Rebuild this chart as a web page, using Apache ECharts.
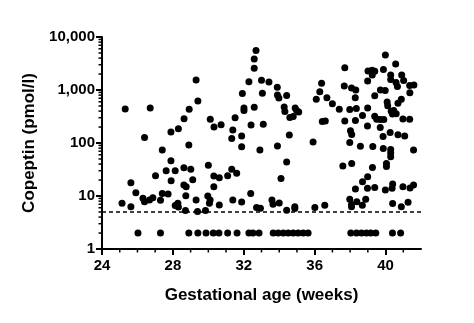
<!DOCTYPE html>
<html>
<head>
<meta charset="utf-8">
<script src="https://cdn.jsdelivr.net/npm/echarts@6/dist/echarts.min.js"></script>
<style>
html,body{margin:0;padding:0;background:#fff;}
#chart{width:474px;height:323px;}
</style>
</head>
<body>
<div id="chart"></div>
<script>
// Detectable copeptin values: gestational age (weeks) and copeptin (pmol/l)
const gestWeeks = [
25.13,25.31,25.63,25.63,25.91,26.31,26.40,26.40,26.68,26.72,26.87,27.02,27.30,27.40,27.40,27.62,27.73,27.89,27.90,27.89,
28.13,28.13,28.28,28.31,28.31,28.62,28.62,28.75,28.73,28.71,28.63,28.90,28.92,29.01,29.12,29.31,29.31,29.41,29.39,29.84,
29.97,30.00,30.06,30.10,30.11,30.31,30.31,30.32,30.62,30.62,30.72,31.09,31.32,31.32,31.38,31.38,31.51,31.60,31.88,31.88,
31.88,31.92,32.01,32.01,32.29,32.39,32.41,32.59,32.59,32.69,32.59,32.72,32.91,32.94,33.00,33.05,33.10,33.42,33.59,33.65,
34.00,33.90,34.10,33.89,33.90,33.98,34.42,34.28,34.32,34.42,34.42,34.57,34.60,34.79,34.90,34.98,35.10,34.88,34.88,35.91,
36.01,36.09,36.29,36.39,36.69,36.43,36.60,36.57,37.00,37.39,37.59,37.70,37.67,37.70,37.98,38.08,38.32,38.29,38.35,38.30,
38.02,38.09,37.98,38.58,38.09,38.30,37.98,38.08,38.08,38.38,38.69,38.88,38.70,38.99,38.98,39.26,39.28,39.39,38.70,38.99,
38.98,39.39,39.50,39.70,39.90,39.70,38.99,39.01,39.24,39.39,39.25,39.39,39.71,39.98,39.88,39.99,40.29,40.29,40.59,40.67,
40.57,40.91,41.02,41.36,41.60,41.37,40.09,40.12,40.70,40.89,40.32,40.46,40.60,40.39,40.98,41.36,39.86,40.26,40.70,41.08,
39.87,40.29,40.29,40.29,41.58,40.05,40.05,40.40,40.37,39.99,40.98,41.38,41.58,40.40,40.89,41.27
];
const copeptin = [
7.3,440,6.3,17.8,11.5,9.1,7.8,127,8.4,458,9.3,24,8.3,11.2,74,30,10.9,46,19.4,161,
30,6.6,7.3,6.2,186,34,16.1,15.0,10.1,5.3,287,92,432,32,20.3,8.4,1545,620,5.1,5.3,
10.0,38,7.3,8.4,280,15.0,23.8,200,22.2,6.8,221,24.2,32,121,176,8.4,300,26.8,85,136,
7.7,859,458,410,1435,11.2,219,2567,3846,5560,472,6.1,74,5.9,1524,866,226,1416,8.4,7.0,
7.4,88,21.4,1125,805,706,788,478,393,44,5.4,142,303,316,458,410,384,6.3,5.8,104,
6.1,670,925,1337,713,254,260,6.7,549,432,37,2636,1190,260,429,1091,1000,716,448,266,
171,145,102,87,41,13.6,8.7,6.9,6.3,7.8,6.7,8.7,18.6,23.1,14.0,34.5,86,14.5,330,458,
209,319,280,278,278,196,1479,2283,2353,2254,1919,781,1000,979,2437,4575,1919,1578,1386,1165,
3094,1919,1511,1216,1243,889,594,505,561,668,396,410,356,352,284,281,133,158,143,136,
79,75,65,55,74,41,36,16.8,14.0,13.0,15.0,14.2,16.1,7.2,6.3,7.6
];
// Samples below the detection limit, plotted at 2 pmol/l
const undetectableWeeks = [
26.03,27.30,28.90,29.41,29.87,30.28,30.60,31.09,31.62,32.29,32.52,32.86,33.66,33.94,34.23,34.51,34.79,35.07,35.35,35.63,
38.04,38.36,38.64,38.92,39.16,39.45,40.39,40.85
];
const undetectableValue = 2;
const detectionLimit = 5;
const xTickLabels = [24, 28, 32, 36, 40];
const xMinorTicks = [25,26,27,29,30,31,33,34,35,37,38,39,41];
const yMinorTicks = [2,3,4,5,6,7,8,9,20,30,40,50,60,70,80,90,200,300,400,500,600,700,800,900,2000,3000,4000,5000,6000,7000,8000,9000];

const FONT = "'Liberation Sans', Arial, sans-serif";
const chart = echarts.init(document.getElementById('chart'), null, {renderer: 'canvas'});

const mainData = gestWeeks.map((w, i) => [w, copeptin[i]]);
const lowData = undetectableWeeks.map(w => [w, undetectableValue]);

chart.setOption({
  animation: false,
  backgroundColor: '#fff',
  grid: {left: 102, right: 53, top: 37, bottom: 74, containLabel: false},
  xAxis: {
    type: 'value', min: 24, max: 42, interval: 4,
    name: 'Gestational age (weeks)', nameLocation: 'middle', nameGap: 38,
    nameTextStyle: {fontFamily: FONT, fontWeight: 'bold', fontSize: 17, color: '#000'},
    axisLine: {show: true, onZero: false, lineStyle: {color: '#000', width: 2}},
    axisTick: {show: true, customValues: xTickLabels, length: 6, lineStyle: {color: '#000', width: 2}},
    axisLabel: {customValues: xTickLabels, margin: 9, fontFamily: FONT, fontWeight: 'bold', fontSize: 15, color: '#000'},
    splitLine: {show: false}
  },
  yAxis: {
    type: 'log', logBase: 10, min: 1, max: 10000,
    name: 'Copeptin (pmol/l)', nameLocation: 'middle', nameGap: 59, nameRotate: 90,
    nameTextStyle: {fontFamily: FONT, fontWeight: 'bold', fontSize: 17, color: '#000'},
    axisLine: {show: true, lineStyle: {color: '#000', width: 2}},
    axisTick: {show: true, length: 6, lineStyle: {color: '#000', width: 2}},
    axisLabel: {margin: 7, fontFamily: FONT, fontWeight: 'bold', fontSize: 15, color: '#000',
      formatter: v => Math.round(v).toLocaleString('en-US')},
    splitLine: {show: false}
  },
  series: [
    {
      type: 'scatter', data: mainData, symbol: 'circle', symbolSize: 7,
      itemStyle: {color: '#000', opacity: 1}, silent: true,
      markLine: {
        silent: true, symbol: ['none', 'none'], label: {show: false},
        lineStyle: {color: '#000', type: [4, 3], width: 1.5, opacity: 1},
        data: [{yAxis: detectionLimit}]
      }
    },
    {
      type: 'scatter', data: lowData, symbol: 'circle', symbolSize: 7,
      itemStyle: {color: '#000', opacity: 1}, silent: true
    },
    {
      type: 'custom', silent: true, clip: false,
      data: yMinorTicks.map(v => [24, v]),
      renderItem: (params, api) => {
        const p = api.coord([24, api.value(1)]);
        return {type: 'line', shape: {x1: p[0] - 3.5, y1: p[1], x2: p[0], y2: p[1]},
          style: {stroke: '#000', lineWidth: 1.5}};
      }
    },
    {
      type: 'custom', silent: true, clip: false,
      data: xMinorTicks.map(w => [w, 1]),
      renderItem: (params, api) => {
        const p = api.coord([api.value(0), 1]);
        return {type: 'line', shape: {x1: p[0], y1: p[1], x2: p[0], y2: p[1] + 3.5},
          style: {stroke: '#000', lineWidth: 1.5}};
      }
    }
  ]
});
</script>
</body>
</html>
